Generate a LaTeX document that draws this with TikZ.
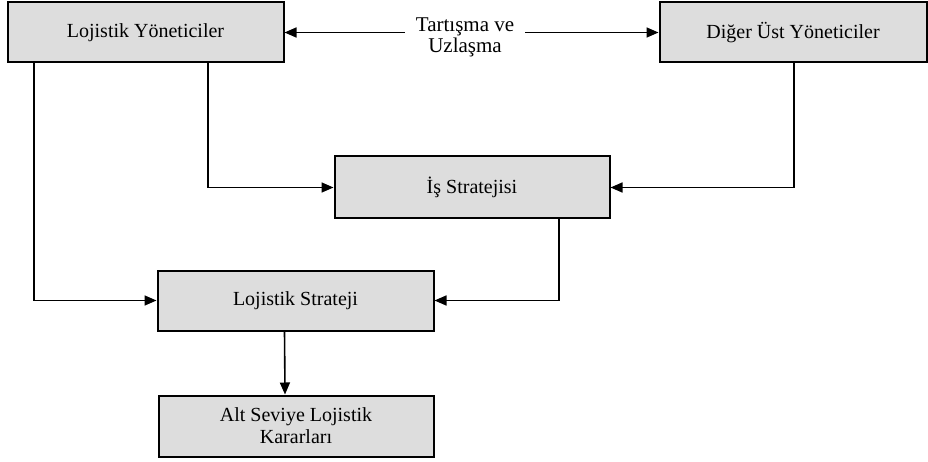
\documentclass[tikz,border=0pt]{standalone}
\usepackage{fontspec}
\setmainfont{Liberation Serif}
\usepackage{xcolor}
\usetikzlibrary{arrows.meta,positioning}
\definecolor{kutugri}{RGB}{221,221,221}

\begin{document}
\begin{tikzpicture}[
  x=1pt, y=-1pt,
  every node/.style={font=\fontsize{20}{22}\selectfont},
  kutu/.style ={rectangle, draw, fill=kutugri, line width=2pt,
                minimum height=60pt, align=center, inner sep=2pt},
  ok/.style   ={-{Triangle[length=12pt,width=10pt]}, line width=1.6pt}
]
\useasboundingbox (0,0) rectangle (928,462);
\node[kutu, minimum width=276pt] (ly) at (145.5,32.5) {Lojistik Yöneticiler};
\node[kutu, minimum width=267pt] (duy) at (793,32.5) {Diğer Üst Yöneticiler};
\node[align=center, inner sep=11pt, font=\fontsize{21}{21}\selectfont] (tu) at (465,37) {Tartışma ve\\Uzlaşma};
\node[kutu, minimum width=275pt, minimum height=62pt] (is) at (472,187.5) {İş Stratejisi};
\node[kutu, minimum width=276pt] (ls) at (295.5,300.5) {Lojistik Strateji};
\node[kutu, minimum width=275pt, minimum height=61pt] (asl) at (296,426) {Alt Seviye Lojistik\\Kararları};
\draw[ok] (tu.west |- ly.east) -- (ly.east);
\draw[ok] (tu.east |- duy.west) -- (duy.west);
\draw[ok] ([xshift=-111.5pt]ly.south) |- (ls.west);
\draw[ok] ([xshift=62.5pt]ly.south) |- (is.west);
\draw[ok] ([xshift=1pt]duy.south) |- (is.east);
\draw[ok] ([xshift=87pt]is.south) |- (ls.east);
\draw[ok] ([xshift=-11pt]ls.south) -- ([xshift=-11pt]asl.north);
\end{tikzpicture}
\end{document}
